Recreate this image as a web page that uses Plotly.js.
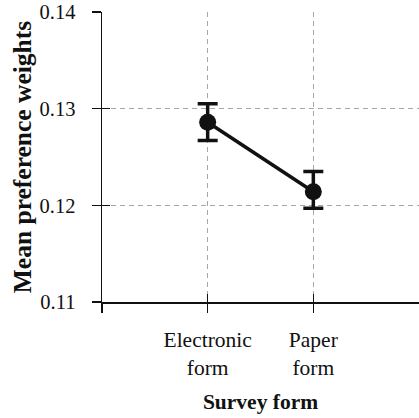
<!DOCTYPE html>
<html>
<head>
<meta charset="utf-8">
<script src="https://cdn.plot.ly/plotly-3.0.1.min.js"></script>
<style>html,body{margin:0;padding:0;background:#fff;}#chart{width:419px;height:418px;}</style>
</head>
<body>
<div id="chart"></div>
<script>
var categories = ["Electronic<br>form", "Paper<br>form"];
var catPositions = [1, 2];
var meanWeights = [0.1286, 0.1214];
var errPlus = [0.0019, 0.0021];
var errMinus = [0.0019, 0.0017];
var yTickVals = [0.11, 0.12, 0.13, 0.14];
var yTickText = ["0.11", "0.12", "0.13", "0.14"];
var xTitle = "Survey form";
var yTitle = "Mean preference weights";

var font = "'Liberation Serif', 'DejaVu Serif', serif";

var gridTrace = {
  x: [], y: [], xaxis: "x", yaxis: "y", type: "scatter", mode: "markers",
  showlegend: false, hoverinfo: "skip"
};

var trace = {
  x: catPositions,
  y: meanWeights,
  xaxis: "x2",
  yaxis: "y2",
  type: "scatter",
  mode: "lines+markers",
  line: {color: "#111", width: 3.5},
  marker: {color: "#111", size: 17},
  error_y: {
    type: "data",
    symmetric: false,
    array: errPlus,
    arrayminus: errMinus,
    color: "#111",
    thickness: 3.5,
    width: 10
  },
  showlegend: false,
  hoverinfo: "skip"
};

var layout = {
  width: 419,
  height: 418,
  margin: {l: 102, r: 0, t: 12, b: 116},
  paper_bgcolor: "#fff",
  plot_bgcolor: "#fff",
  font: {family: font, color: "#111", size: 20},
  xaxis: {
    range: [0, 3],
    tickmode: "array",
    tickvals: catPositions,
    showticklabels: false,
    ticks: "inside",
    ticklen: 8,
    tickwidth: 1.5,
    tickcolor: "#111",
    showgrid: true,
    gridcolor: "#a6a6a6",
    gridwidth: 1.2,
    griddash: "5px,4px",
    zeroline: false,
    showline: false,
    fixedrange: true
  },
  yaxis: {
    range: [0.11, 0.14],
    tickmode: "array",
    tickvals: [0.12, 0.13],
    showticklabels: false,
    ticks: "inside",
    ticklen: 8,
    tickwidth: 1.5,
    tickcolor: "#111",
    showgrid: true,
    gridcolor: "#a6a6a6",
    gridwidth: 1.2,
    griddash: "5px,4px",
    zeroline: false,
    showline: false,
    fixedrange: true
  },
  xaxis2: {
    overlaying: "x",
    range: [0, 3],
    tickmode: "array",
    tickvals: [0].concat(catPositions),
    ticktext: [""].concat(categories),
    ticks: "outside",
    ticklen: 9,
    tickwidth: 1.5,
    tickcolor: "#111",
    showline: true,
    linecolor: "#111",
    linewidth: 1.5,
    showgrid: false,
    zeroline: false,
    ticklabelstandoff: 9,
    tickfont: {family: font, size: 21.5, color: "#111"},
    title: {text: "<b>" + xTitle + "</b>", font: {family: font, size: 21.5, color: "#111"}, standoff: 14},
    fixedrange: true
  },
  yaxis2: {
    overlaying: "y",
    side: "left",
    range: [0.11, 0.14],
    tickmode: "array",
    tickvals: yTickVals,
    ticktext: yTickText,
    ticks: "outside",
    ticklen: 9,
    tickwidth: 1.5,
    tickcolor: "#111",
    showline: true,
    linecolor: "#111",
    linewidth: 1.5,
    showgrid: false,
    zeroline: false,
    ticklabelstandoff: 12,
    tickfont: {family: font, size: 20.5, color: "#111"},
    title: {text: "<b>" + yTitle + "</b>", font: {family: font, size: 25.5, color: "#111"}, standoff: 0},
    fixedrange: true
  }
};

Plotly.newPlot("chart", [gridTrace, trace], layout, {displayModeBar: false, staticPlot: true});
</script>
</body>
</html>
